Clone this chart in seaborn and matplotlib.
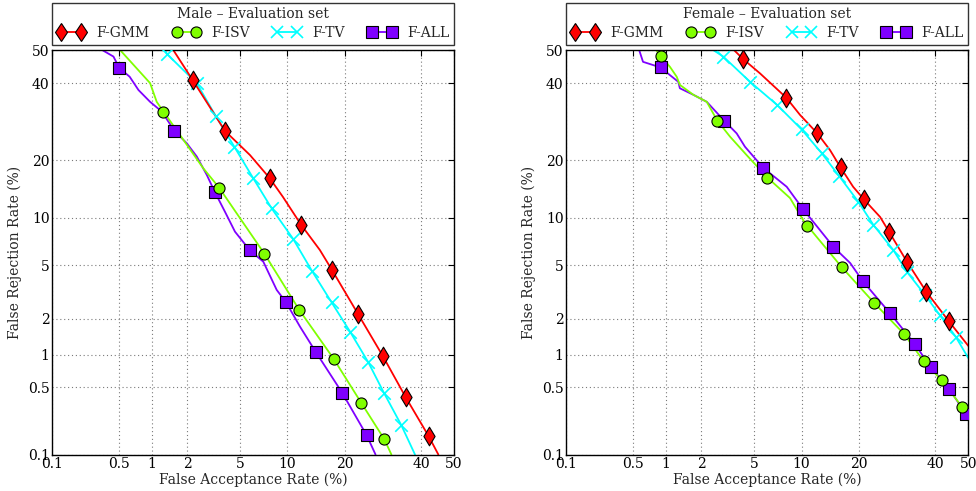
import math
import numpy as np
import matplotlib
matplotlib.use("Agg")
import matplotlib.pyplot as plt
from matplotlib.lines import Line2D
import seaborn as sns

# ---------------- data (percent) ----------------
ticks = [0.1, 0.5, 1, 2, 5, 10, 20, 40, 50]
tick_labels = ["0.1", "0.5", "1", "2", "5", "10", "20", "40", "50"]
systems = ["F-GMM", "F-ISV", "F-TV", "F-ALL"]
titles = ["Male \u2013 Evaluation set", "Female \u2013 Evaluation set"]

# Male
gmm_m_far = [1.54, 2.22, 3.91, 5.83, 7.8, 9.4, 12.0, 15.1, 17.4, 23.0, 29.2, 35.5, 42.3, 45.2]
gmm_m_frr = [50, 40.9, 26.8, 21.1, 16.4, 13.1, 9.06, 6.33, 4.64, 2.19, 0.97, 0.40, 0.158, 0.1]
gmm_m_mk_far = [2.22, 3.91, 7.8, 12.0, 17.4, 23.0, 29.2, 35.5, 42.3]
gmm_m_mk_frr = [40.9, 26.8, 16.4, 9.06, 4.64, 2.19, 0.97, 0.40, 0.158]

isv_m_far = [0.51, 0.97, 1.11, 1.27, 1.87, 2.69, 3.55, 4.73, 7.22, 11.7, 17.7, 23.8, 29.6, 31.5]
isv_m_frr = [50, 40.0, 34.6, 31.9, 24.6, 18.3, 14.6, 10.6, 6.0, 2.35, 0.92, 0.35, 0.147, 0.1]
isv_m_mk_far = [1.27, 3.55, 7.22, 11.7, 17.7, 23.8, 29.6]
isv_m_mk_frr = [31.9, 14.6, 6.0, 2.35, 0.92, 0.35, 0.147]

tv_m_far = [1.31, 1.36, 2.39, 3.34, 4.55, 6.08, 8.04, 10.8, 13.7, 17.3, 21.2, 25.5, 29.5, 34.2, 38.2]
tv_m_frr = [50, 48.8, 40.0, 30.7, 23.0, 16.5, 11.3, 7.44, 4.59, 2.70, 1.57, 0.85, 0.44, 0.21, 0.1]
tv_m_mk_far = [1.36, 2.39, 3.34, 4.55, 6.08, 8.04, 10.8, 13.7, 17.3, 21.2, 25.5, 29.5, 34.2]
tv_m_mk_frr = [48.8, 40.0, 30.7, 23.0, 16.5, 11.3, 7.44, 4.59, 2.70, 1.57, 0.85, 0.44, 0.21]

all_m_far = [0.34, 0.44, 0.50, 0.63, 0.76, 0.97, 1.23, 1.57, 1.99, 2.39, 2.86, 3.28, 3.91,
             4.60, 5.83, 7.12, 8.63, 9.81, 11.8, 14.4, 19.5, 25.1, 27.3]
all_m_frr = [50, 48.0, 44.6, 41.9, 38.0, 34.6, 31.9, 26.9, 23.8, 20.8, 17.0, 13.95, 10.8,
             8.26, 6.28, 5.29, 3.34, 2.70, 1.73, 1.05, 0.44, 0.162, 0.1]
all_m_mk_far = [0.50, 1.57, 3.28, 5.83, 9.81, 14.4, 19.5, 25.1]
all_m_mk_frr = [44.6, 26.9, 13.95, 6.28, 2.70, 1.05, 0.44, 0.162]

# Female
gmm_f_far = [3.58, 4.16, 5.47, 8.08, 9.79, 12.3, 14.4, 16.3, 18.8, 21.1, 24.9, 27.1, 31.9, 37.3, 44.0, 50]
gmm_f_frr = [50, 47.3, 42.9, 35.8, 31.0, 26.2, 22.2, 18.5, 14.8, 12.7, 10.1, 8.26, 5.27, 3.25, 1.92, 1.19]
gmm_f_mk_far = [4.16, 8.08, 12.3, 16.3, 21.1, 27.1, 31.9, 37.3, 44.0]
gmm_f_mk_frr = [47.3, 35.8, 26.2, 18.5, 12.7, 8.26, 5.27, 3.25, 1.92]

isv_f_far = [0.82, 0.90, 1.09, 1.25, 1.33, 1.73, 2.22, 2.68, 3.35, 4.42, 6.12, 8.53, 10.2, 10.8,
             16.5, 23.4, 31.1, 36.6, 41.9, 48.1, 50]
isv_f_frr = [50, 48.2, 44.9, 41.9, 39.5, 36.6, 34.6, 29.5, 25.4, 21.1, 16.5, 12.9, 9.70, 8.98,
             4.87, 2.68, 1.50, 0.87, 0.58, 0.32, 0.28]
isv_f_mk_far = [0.90, 2.68, 6.12, 10.8, 16.5, 23.4, 31.1, 36.6, 41.9, 48.1]
isv_f_mk_frr = [48.2, 29.5, 16.5, 8.98, 4.87, 2.68, 1.50, 0.87, 0.58, 0.32]

tv_f_far = [2.49, 2.98, 4.67, 7.10, 10.0, 13.0, 16.1, 19.9, 23.3, 28.2, 31.9, 37.0, 41.4, 46.1, 50]
tv_f_frr = [50, 48.0, 40.4, 33.7, 27.2, 21.5, 16.7, 12.3, 9.06, 6.33, 4.49, 3.06, 2.13, 1.43, 0.93]
tv_f_mk_far = [2.98, 4.67, 7.10, 10.0, 13.0, 16.1, 19.9, 23.3, 28.2, 31.9, 37.0, 41.4, 46.1]
tv_f_mk_frr = [48.0, 40.4, 33.7, 27.2, 21.5, 16.7, 12.3, 9.06, 6.33, 4.49, 3.06, 2.13, 1.43]

all_f_far = [0.57, 0.62, 0.90, 1.09, 1.29, 1.33, 1.73, 2.22, 3.02, 3.75, 4.30, 5.75, 8.14, 10.2,
             12.7, 15.0, 18.2, 20.9, 27.4, 34.0, 38.6, 44.2, 49.3, 50]
all_f_frr = [50, 46.4, 44.7, 42.4, 40.4, 38.5, 36.6, 34.6, 29.5, 26.2, 23.0, 18.4, 14.8, 11.2,
             8.45, 6.62, 5.18, 3.86, 2.21, 1.24, 0.77, 0.48, 0.27, 0.25]
all_f_mk_far = [0.90, 3.02, 5.75, 10.2, 15.0, 20.9, 27.4, 34.0, 38.6, 44.2, 49.3]
all_f_mk_frr = [44.7, 29.5, 18.4, 11.2, 6.62, 3.86, 2.21, 1.24, 0.77, 0.48, 0.27]

# ---------------- normal-deviate (DET) scale ----------------
_a = [-3.969683028665376e+01, 2.209460984245205e+02, -2.759285104469687e+02,
      1.383577518672690e+02, -3.066479806614716e+01, 2.506628277459239e+00]
_b = [-5.447609879822406e+01, 1.615858368580409e+02, -1.556989798598866e+02,
      6.680131188771972e+01, -1.328068155288572e+01]
_c = [-7.784894002430293e-03, -3.223964580411365e-01, -2.400758277161838e+00,
      -2.549732539343734e+00, 4.374664141464968e+00, 2.938163982698783e+00]
_d = [7.784695709041462e-03, 3.224671290700398e-01, 2.445134137142996e+00,
      3.754408661907416e+00]


def _ppf(p):
    p = np.clip(np.asarray(p, dtype=float), 1e-12, 1 - 1e-12)
    plow = 0.02425
    out = np.empty_like(p)
    lo = p < plow
    hi = p > 1 - plow
    mid = ~(lo | hi)
    q = np.sqrt(-2 * np.log(p[lo]))
    out[lo] = (((((_c[0]*q+_c[1])*q+_c[2])*q+_c[3])*q+_c[4])*q+_c[5]) / \
              ((((_d[0]*q+_d[1])*q+_d[2])*q+_d[3])*q+1)
    q = np.sqrt(-2 * np.log(1 - p[hi]))
    out[hi] = -(((((_c[0]*q+_c[1])*q+_c[2])*q+_c[3])*q+_c[4])*q+_c[5]) / \
              ((((_d[0]*q+_d[1])*q+_d[2])*q+_d[3])*q+1)
    q = p[mid] - 0.5
    r = q * q
    out[mid] = (((((_a[0]*r+_a[1])*r+_a[2])*r+_a[3])*r+_a[4])*r+_a[5])*q / \
               (((((_b[0]*r+_b[1])*r+_b[2])*r+_b[3])*r+_b[4])*r+1)
    return out


_erf = np.vectorize(math.erf)


def fwd(x):
    return _ppf(np.asarray(x, dtype=float) / 100.0)


def inv(z):
    z = np.asarray(z, dtype=float)
    return 50.0 * (1.0 + _erf(z / math.sqrt(2.0)))


# ---------------- plotting ----------------
sns.set_theme(style="white")
plt.rcParams["font.family"] = ["DejaVu Serif"]
plt.rcParams["mathtext.fontset"] = "dejavuserif"

colors = {"F-GMM": "#FF0000", "F-ISV": "#80FF00", "F-TV": "#00FFFF", "F-ALL": "#7F00FF"}
markers = {"F-GMM": "d", "F-ISV": "o", "F-TV": "x", "F-ALL": "s"}
msize = {"F-GMM": 9.5, "F-ISV": 8, "F-TV": 9, "F-ALL": 8}

panels = [
    {"F-GMM": (gmm_m_far, gmm_m_frr, gmm_m_mk_far, gmm_m_mk_frr),
     "F-ISV": (isv_m_far, isv_m_frr, isv_m_mk_far, isv_m_mk_frr),
     "F-TV": (tv_m_far, tv_m_frr, tv_m_mk_far, tv_m_mk_frr),
     "F-ALL": (all_m_far, all_m_frr, all_m_mk_far, all_m_mk_frr)},
    {"F-GMM": (gmm_f_far, gmm_f_frr, gmm_f_mk_far, gmm_f_mk_frr),
     "F-ISV": (isv_f_far, isv_f_frr, isv_f_mk_far, isv_f_mk_frr),
     "F-TV": (tv_f_far, tv_f_frr, tv_f_mk_far, tv_f_mk_frr),
     "F-ALL": (all_f_far, all_f_frr, all_f_mk_far, all_f_mk_frr)},
]

fig = plt.figure(figsize=(9.76, 4.91), dpi=100)
W, H = 976.0, 491.0
ax_rects = [
    [52.3 / W, 1 - 454.5 / H, 401.7 / W, 404.5 / H],
    [566.3 / W, 1 - 454.5 / H, 402.0 / W, 404.5 / H],
]

draw_order = ["F-ALL", "F-ISV", "F-TV", "F-GMM"]

for rect, pdata, title in zip(ax_rects, panels, titles):
    ax = fig.add_axes(rect)
    ax.set_xscale("function", functions=(fwd, inv))
    ax.set_yscale("function", functions=(fwd, inv))
    for name in draw_order:
        far, frr, mfar, mfrr = pdata[name]
        c = colors[name]
        sns.lineplot(x=far, y=frr, ax=ax, color=c, lw=1.3, sort=False,
                     estimator=None, legend=False, zorder=2)
        if markers[name] == "x":
            sns.scatterplot(x=mfar, y=mfrr, ax=ax, marker="x", color=c,
                            s=msize[name] ** 2, linewidth=1.2, legend=False, zorder=3)
        else:
            sns.scatterplot(x=mfar, y=mfrr, ax=ax, marker=markers[name], color=c,
                            s=msize[name] ** 2, edgecolor="black", linewidth=0.8,
                            legend=False, zorder=3)
    ax.set_xlim(0.1, 50)
    ax.set_ylim(0.1, 50)
    ax.set_xticks(ticks)
    ax.set_xticklabels(tick_labels)
    ax.set_yticks(ticks)
    ax.set_yticklabels(tick_labels)
    ax.minorticks_off()
    ax.grid(True, linestyle=(0, (1, 2.5)), color="#7a7a7a", lw=0.8)
    ax.set_axisbelow(True)
    ax.tick_params(direction="in", top=True, right=True, length=4, width=0.8,
                   labelsize=10, colors="black", pad=2)
    for sp in ax.spines.values():
        sp.set_color("black")
        sp.set_linewidth(1.0)
    ax.set_xlabel("False Acceptance Rate (%)", fontsize=10, labelpad=1)
    ax.set_ylabel("False Rejection Rate (%)", fontsize=10, labelpad=4)

    handles = [Line2D([], [], color=colors[n], lw=1.3, marker=markers[n],
                      markersize=msize[n],
                      markerfacecolor=colors[n],
                      markeredgecolor=("black" if markers[n] != "x" else colors[n]),
                      markeredgewidth=(0.8 if markers[n] != "x" else 1.2))
               for n in systems]
    leg = ax.legend(handles, systems, loc="lower left",
                    bbox_to_anchor=(0.0, 1.012, 1.0, 0.1), mode="expand",
                    ncol=4, numpoints=2, title=title, fontsize=10,
                    title_fontsize=10, frameon=True, fancybox=False,
                    edgecolor="black", handlelength=2.0, handletextpad=0.8,
                    borderaxespad=0.0, borderpad=0.35, labelspacing=0.35,
                    columnspacing=1.0)
    leg.get_frame().set_linewidth(1.0)

fig.savefig("out.png", dpi=100)
